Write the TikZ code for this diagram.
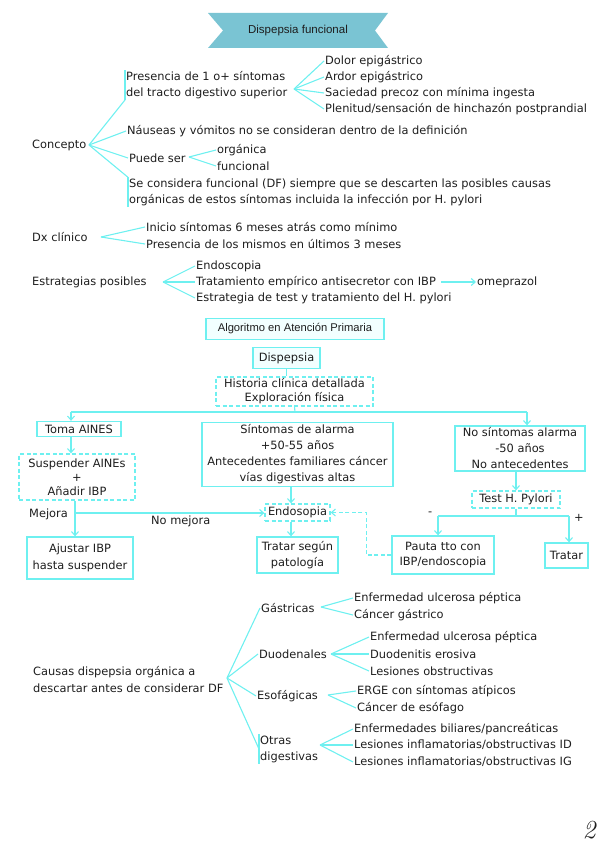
\documentclass[tikz,border=0pt]{standalone}
\usepackage{fontspec}
\newfontfamily\hand{DejaVu Sans}
\newfontfamily\narr{Liberation Sans}
\usetikzlibrary{arrows.meta}
\definecolor{cy}{RGB}{110,240,240}
\definecolor{bannerc}{RGB}{122,196,211}
\definecolor{ink}{RGB}{30,30,30}
\definecolor{pale}{RGB}{242,255,255}
\tikzset{
 tx/.style={anchor=west, inner sep=1pt, font=\hand\fontsize{11.4}{16}\selectfont, text=ink, align=left},
 cn/.style={draw=cy, line width=1.1pt},
 arr/.style={cn, -{Straight Barb[length=4pt,width=7pt]}},
 bx/.style={draw=cy, line width=1.3pt, fill=white, inner sep=0pt, align=center, text=ink, font=\hand\fontsize{11.4}{16}\selectfont},
 dbx/.style={bx, dash pattern=on 4pt off 2.5pt},
 bar/.style={draw=cy, line width=1.6pt},
}
\begin{document}
\begin{tikzpicture}[x=1pt,y=-1pt]
\useasboundingbox (0,0) rectangle (599,848);
% banner
\fill[bannerc] (208,13) -- (388,13) -- (375,30.5) -- (388,48) -- (208,48) -- (223,30.5) -- cycle;
\node[text=ink, font=\narr\fontsize{11.5}{13}\selectfont] (title) at (298,31) {Dispepsia funcional};

% Concepto
\node[tx] (concepto) at (31,145) {Concepto};
\coordinate (hc) at (89,145);
\node[tx] (pres) at (125,85) {Presencia de 1 o+ síntomas\\del tracto digestivo superior};
\draw[bar] (pres.north west) -- (pres.south west);
\draw[cn] (hc) -- (pres.south west);
\coordinate (hp) at (294,89);
\node[tx] (s1) at (324,61) {Dolor epigástrico};
\node[tx] (s2) at (324,77) {Ardor epigástrico};
\node[tx] (s3) at (324,93) {Saciedad precoz con mínima ingesta};
\node[tx] (s4) at (324,109) {Plenitud/sensación de hinchazón postprandial};
\foreach \n in {s1,s2,s3,s4} \draw[cn] (hp) -- (\n.west);
\node[tx] (naus) at (126,131) {Náuseas y vómitos no se consideran dentro de la definición};
\draw[cn] (hc) -- (naus.west);
\node[tx] (puede) at (128,158) {Puede ser};
\draw[cn] (hc) -- (puede.west);
\coordinate (hpu) at (189,157);
\node[tx] (org) at (216,150) {orgánica};
\node[tx] (fun) at (216,166) {funcional};
\draw[cn] (hpu) -- (org.west);
\draw[cn] (hpu) -- (fun.west);
\node[tx] (secons) at (128,192) {Se considera funcional (DF) siempre que se descarten las posibles causas\\orgánicas de estos síntomas incluida la infección por H. pylori};
\draw[bar] (secons.north west) -- (secons.south west);
\draw[cn] (hc) -- (secons.north west);

% Dx clinico
\node[tx] (dx) at (31,237) {Dx clínico};
\coordinate (hd) at (101,237);
\node[tx] (d1) at (145,227) {Inicio síntomas 6 meses atrás como mínimo};
\node[tx] (d2) at (145,244) {Presencia de los mismos en últimos 3 meses};
\draw[cn] (hd) -- (d1.west);
\draw[cn] (hd) -- (d2.west);

% Estrategias
\node[tx] (est) at (31,282) {Estrategias posibles};
\coordinate (he) at (163,282);
\node[tx] (e1) at (195,266) {Endoscopia};
\node[tx] (e2) at (195,282) {Tratamiento empírico antisecretor con IBP};
\node[tx] (e3) at (195,298) {Estrategia de test y tratamiento del H. pylori};
\foreach \n in {e1,e2,e3} \draw[cn] (he) -- (\n.west);
\node[tx] (omep) at (476,282) {omeprazol};
\draw[arr] (e2.east) ++(4,0) -- (omep.west);

% Algoritmo
\node[bx, fill=pale, minimum width=178pt, minimum height=21pt, font=\narr\fontsize{11.2}{12}\selectfont] (alg) at (295,329) {Algoritmo en Atención Primaria};
\node[bx, fill=pale, minimum width=67pt, minimum height=21pt] (disp) at (286.5,358) {Dispepsia};
\node[dbx, minimum width=157pt, minimum height=29pt, font=\hand\fontsize{11.4}{14}\selectfont] (hist) at (294.5,391.5) {Historia clínica detallada\\Exploración física};
\draw[cn] (disp.south) -- (disp.south |- hist.north);
\coordinate (j1) at (295,412);
\coordinate (lcol) at (71,412);
\coordinate (rcol) at (527,412);
\draw[cn] (hist.south) -- (j1);
\draw[cn] (lcol) -- (rcol);

\node[bx, minimum width=84pt, minimum height=15pt] (toma) at (79,429) {Toma AINES};
\node[dbx, minimum width=116pt, minimum height=46pt, font=\hand\fontsize{11.4}{14}\selectfont] (susp) at (77,477) {Suspender AINEs\\+\\Añadir IBP};
\draw[arr] (lcol) -- (lcol |- toma.north);
\draw[arr] (toma.south -| lcol) -- (susp.north -| lcol);
\node[bx, minimum width=106pt, minimum height=42pt, font=\hand\fontsize{11.4}{17}\selectfont] (aj) at (80,558) {Ajustar IBP\\hasta suspender};

\node[bx, minimum width=191pt, minimum height=64pt] (sint) at (297.5,454.5) {Síntomas de alarma\\+50-55 años\\Antecedentes familiares cáncer\\vías digestivas altas};
\coordinate (mcol) at (291,0);
\node[dbx, minimum width=65pt, minimum height=17pt] (endo) at (297.5,512.5) {Endosopia};
\node[bx, minimum width=81pt, minimum height=36pt, font=\hand\fontsize{11.4}{16}\selectfont] (trat) at (297.5,555) {Tratar según\\patología};
\draw[arr] (sint.south -| mcol) -- (endo.north -| mcol);
\draw[arr] (endo.south -| mcol) -- (trat.north -| mcol);

\coordinate (mj) at (75,513);
\draw[cn] (susp.south -| mj) -- (mj);
\draw[arr] (mj) -- (aj.north -| mj);
\draw[arr] (mj) -- (mj -| endo.west);
\node[tx] (mejora) at (28,514) {Mejora};
\node[tx] (nomejora) at (150,521) {No mejora};

\node[bx, minimum width=130pt, minimum height=45pt] (nos) at (520,448.5) {No síntomas alarma\\-50 años\\No antecedentes};
\node[dbx, minimum width=88pt, minimum height=17pt] (test) at (516,499.5) {Test H. Pylori};
\draw[arr] (nos.south -| test.north) -- (test.north);
\draw[arr] (rcol) -- (rcol |- nos.north);
\coordinate (tj) at (516,516);
\coordinate (pl) at (438,516);
\coordinate (pr) at (569,516);
\node[bx, minimum width=102pt, minimum height=38pt, font=\hand\fontsize{11.4}{15}\selectfont] (pauta) at (443,555) {Pauta tto con\\IBP/endoscopia};
\node[bx, minimum width=43pt, minimum height=25pt] (tratar) at (566.5,555.5) {Tratar};
\draw[cn] (test.south) -- (tj);
\draw[cn] (pl) -- (pr);
\draw[arr] (pl) -- (pl |- pauta.north);
\draw[arr] (pr) -- (pr |- tratar.north);
\node[tx] (menos) at (427,514) {-};
\node[tx] (mas) at (573,518) {+};
\draw[arr, dash pattern=on 4pt off 2.5pt] (pauta.west) -- ++(-25,0) |- (endo.east);

% Causas
\node[tx, font=\hand\fontsize{11.4}{17}\selectfont] (causas) at (32,680) {Causas dispepsia orgánica a\\descartar antes de considerar DF};
\coordinate (hk) at (227,678);
\node[tx] (gas) at (260,608) {Gástricas};
\node[tx] (duo) at (258,654) {Duodenales};
\node[tx] (eso) at (256,696) {Esofágicas};
\node[tx] (otras) at (259,749) {Otras\\digestivas};
\draw[bar] (otras.north west) -- (otras.south west);
\foreach \n in {gas,duo,eso,otras} \draw[cn] (hk) -- (\n.west);
\coordinate (hg) at (321,607);
\node[tx] (g1) at (353,598) {Enfermedad ulcerosa péptica};
\node[tx] (g2) at (353,615) {Cáncer gástrico};
\foreach \n in {g1,g2} \draw[cn] (hg) -- (\n.west);
\coordinate (hdu) at (331,654);
\node[tx] (u1) at (369,637) {Enfermedad ulcerosa péptica};
\node[tx] (u2) at (369,654) {Duodenitis erosiva};
\node[tx] (u3) at (369,671) {Lesiones obstructivas};
\foreach \n in {u1,u2,u3} \draw[cn] (hdu) -- (\n.west);
\coordinate (hes) at (328,695);
\node[tx] (f1) at (356,691) {ERGE con síntomas atípicos};
\node[tx] (f2) at (356,708) {Cáncer de esófago};
\foreach \n in {f1,f2} \draw[cn] (hes) -- (\n.west);
\coordinate (ho) at (320,745);
\node[tx] (o1) at (353,729) {Enfermedades biliares/pancreáticas};
\node[tx] (o2) at (353,745) {Lesiones inflamatorias/obstructivas ID};
\node[tx] (o3) at (353,762) {Lesiones inflamatorias/obstructivas IG};
\foreach \n in {o1,o2,o3} \draw[cn] (ho) -- (\n.west);

\node[text=ink, font=\fontsize{26}{26}\selectfont\itshape] (pg) at (589,830) {2};
\end{tikzpicture}
\end{document}
